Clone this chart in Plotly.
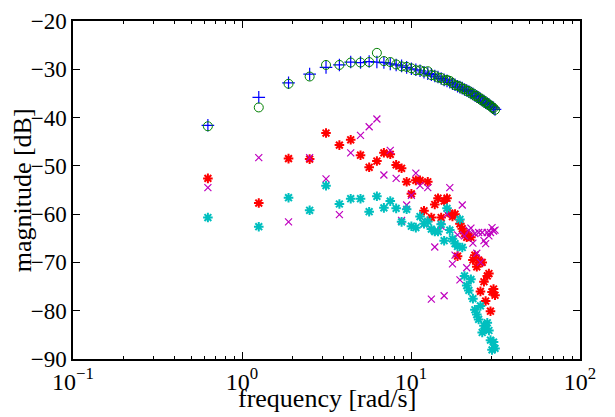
import numpy as np
import plotly.graph_objects as go

# harmonic index; frequency = k * 2*pi/10 rad/s
k = list(range(1, 51))
freq = [0.2 * np.pi * i for i in k]

mag_blue = [-41.6, -35.8, -32.8, -31.0, -29.6, -29.1, -28.5, -28.6, -28.4, -28.5,
            -28.6, -28.9, -29.1, -29.3, -29.6, -29.9, -30.1, -30.3, -30.6, -30.9,
            -31.1, -31.4, -31.6, -31.9, -32.2, -32.4, -32.7, -33.0, -33.2, -33.5,
            -33.7, -33.9, -34.2, -34.4, -34.6, -34.9, -35.1, -35.4, -35.6, -35.9,
            -36.1, -36.4, -36.6, -36.9, -37.1, -37.3, -37.6, -37.8, -38.0, -38.3]

mag_green = [-41.8, -37.9, -33.0, -31.5, -29.1, -29.1, -28.6, -28.6, -28.5, -26.6,
             -28.3, -28.5, -29.0, -29.4, -29.5, -29.8, -30.2, -30.2, -30.5, -30.4,
             -31.2, -31.3, -31.7, -31.8, -32.3, -32.2, -32.4, -32.9, -33.3, -33.4,
             -33.6, -34.0, -34.1, -34.5, -34.5, -35.0, -35.0, -35.5, -35.5, -36.0,
             -36.0, -36.5, -36.5, -37.0, -37.0, -37.4, -37.5, -37.9, -38.0, -38.4]

mag_red = [-52.6, -57.7, -48.5, -48.6, -43.2, -45.7, -44.6, -47.8, -50.3, -49.0,
           -47.3, -47.6, -49.8, -50.5, -53.3, -55.8, -53.0, -53.0, -59.3, -53.3,
           -60.7, -58.0, -56.7, -60.7, -57.3, -56.7, -59.8, -60.5, -60.0, -68.7,
           -62.0, -63.0, -64.0, -64.8, -64.5, -64.8, -69.5, -68.5, -70.9, -69.5,
           -76.0, -70.0, -74.0, -78.0, -72.8, -72.3, -80.1, -76.1, -75.5, -76.8]

mag_magenta = [-54.5, -48.3, -61.6, -48.3, -52.7, -60.1, -47.3, -43.7, -41.9, -40.3,
               -51.9, -46.8, -52.6, -61.3, -58.1, -56.1, -51.5, -54.1, -62.0, -54.5,
               -77.6, -66.8, -63.6, -62.5, -76.9, -60.0, -54.5, -70.3, -68.5, -64.3,
               -73.6, -58.1, -64.5, -71.1, -63.3, -62.9, -66.0, -64.0, -68.1, -63.8,
               -70.0, -63.8, -65.5, -66.1, -63.8, -64.5, -63.8, -62.8, -63.5, -63.3]

mag_cyan = [-60.7, -62.6, -56.6, -59.2, -54.1, -57.9, -56.8, -56.8, -59.5, -56.3,
            -58.7, -57.3, -58.8, -61.6, -59.0, -62.5, -62.8, -60.5, -62.0, -61.5,
            -63.1, -63.6, -63.6, -62.1, -65.5, -58.8, -63.3, -65.1, -66.1, -66.7,
            -61.1, -66.9, -72.8, -74.8, -75.8, -73.5, -77.5, -79.8, -80.8, -81.8,
            -79.0, -84.5, -83.1, -83.8, -82.5, -84.1, -86.1, -88.1, -86.5, -87.8]

x_tickvals = [0.1, 1, 10, 100]
x_ticktext = ["10<sup>−1</sup>", "10<sup>0</sup>", "10<sup>1</sup>", "10<sup>2</sup>"]
y_tickvals = [-90, -80, -70, -60, -50, -40, -30, -20]
y_ticktext = ["−90", "−80", "−70", "−60", "−50", "−40", "−30", "−20"]
x_minor = [m * 10.0 ** e for e in (-1, 0, 1) for m in range(2, 10)]

FONT = "Liberation Serif"


def mk(symbol, size, color, width):
    return dict(symbol=symbol, size=size, color=color,
                line=dict(color=color, width=width))


fig = go.Figure()
fig.add_trace(go.Scatter(x=freq, y=mag_blue, mode="markers",
                         marker=mk("cross-thin-open", 9, "#0000ff", 1.2)))
fig.add_trace(go.Scatter(x=freq, y=mag_green, mode="markers",
                         marker=mk("circle-open", 9, "#008000", 1)))
fig.add_trace(go.Scatter(x=freq, y=mag_red, mode="markers",
                         marker=mk("asterisk-open", 8, "#ff0000", 2)))
fig.add_trace(go.Scatter(x=freq, y=mag_magenta, mode="markers",
                         marker=mk("x-thin-open", 7, "#bf00bf", 1.2)))
fig.add_trace(go.Scatter(x=freq, y=mag_cyan, mode="markers",
                         marker=mk("asterisk-open", 8, "#00bfbf", 2)))

fig.update_layout(
    width=615, height=417,
    margin=dict(l=73, r=35, t=9, b=58),
    paper_bgcolor="white", plot_bgcolor="white",
    showlegend=False,
    font=dict(family=FONT, size=23, color="black"),
    xaxis=dict(type="log", range=[-1, 2], tickmode="array",
               tickvals=x_tickvals, ticktext=x_ticktext,
               ticks="inside", ticklen=7, tickwidth=1, tickcolor="black",
               minor=dict(tickmode="array", tickvals=x_minor, ticks="inside",
                          ticklen=3.5, tickwidth=1, tickcolor="black", showgrid=False),
               showline=True, linecolor="black", linewidth=1.5, mirror="allticks",
               showgrid=False, zeroline=False, tickfont=dict(size=24),
               ticklabeloverflow="allow"),
    yaxis=dict(range=[-90, -20], tickmode="array",
               tickvals=y_tickvals, ticktext=y_ticktext,
               ticks="inside", ticklen=7, tickwidth=1, tickcolor="black",
               showline=True, linecolor="black", linewidth=1.5, mirror="allticks",
               showgrid=False, zeroline=False, ticklabeloverflow="allow"),
)

fig.add_annotation(text="frequency [rad/s]", xref="paper", yref="paper",
                   x=0.5, y=-0.068, xanchor="center", yanchor="top",
                   showarrow=False, font=dict(family=FONT, size=26))
fig.add_annotation(text="magnitude [dB]", xref="paper", yref="paper",
                   x=-0.1, y=0.5, xanchor="center", yanchor="middle", textangle=-90,
                   showarrow=False, font=dict(family=FONT, size=26))

fig.write_html("out.html")
